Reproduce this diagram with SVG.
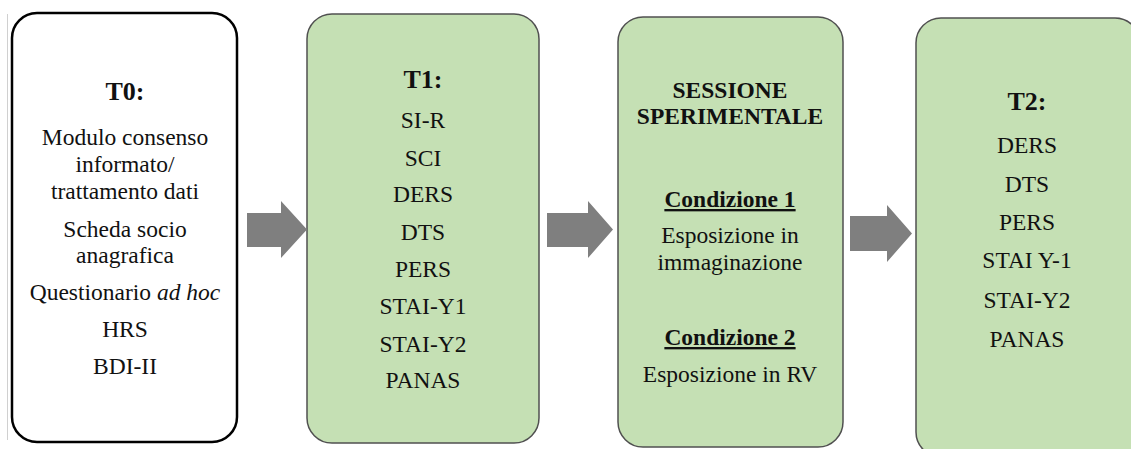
<svg xmlns="http://www.w3.org/2000/svg" width="1131" height="449" viewBox="0 0 1131 449">
<style>
  text { font-family: "Liberation Serif", "Times New Roman", serif; fill: #111; text-anchor: middle; }
  .b { font-size: 23.5px; }
  .h { font-size: 26px; font-weight: bold; }
  .hs { font-size: 23.5px; font-weight: bold; }
  .u { text-decoration: underline; }
  .green { fill: #c5e0b4; stroke: #505050; stroke-width: 1.5; }
  .white { fill: #ffffff; stroke: #000000; stroke-width: 2.5; }
  .arrow { fill: #7f7f7f; stroke: none; }
</style>
<rect width="1131" height="449" fill="#ffffff"/>
<line x1="7.5" y1="14" x2="7.5" y2="440" stroke="#d0d0d0" stroke-width="1"/>

<g id="T0">
  <rect class="white" x="12" y="13" width="225" height="429" rx="25" ry="25"/>
  <text class="h" x="125" y="100">T0:</text>
  <text class="b" x="125" y="145">Modulo consenso</text>
  <text class="b" x="125" y="172">informato/</text>
  <text class="b" x="125" y="199">trattamento dati</text>
  <text class="b" x="125" y="237">Scheda socio</text>
  <text class="b" x="125" y="263">anagrafica</text>
  <text class="b" x="125" y="300">Questionario <tspan font-style="italic">ad hoc</tspan></text>
  <text class="b" x="125" y="337">HRS</text>
  <text class="b" x="125" y="374">BDI-II</text>
</g>

<g id="T1">
  <rect class="green" x="307" y="14" width="232" height="429" rx="25" ry="25"/>
  <text class="h" x="423" y="88">T1:</text>
  <text class="b" x="423" y="128">SI-R</text>
  <text class="b" x="423" y="166">SCI</text>
  <text class="b" x="423" y="202">DERS</text>
  <text class="b" x="423" y="240">DTS</text>
  <text class="b" x="423" y="277">PERS</text>
  <text class="b" x="423" y="314">STAI-Y1</text>
  <text class="b" x="423" y="352">STAI-Y2</text>
  <text class="b" x="423" y="388">PANAS</text>
</g>

<g id="sessione">
  <rect class="green" x="618" y="17" width="225" height="430" rx="25" ry="25"/>
  <text class="hs" x="730" y="98">SESSIONE</text>
  <text class="hs" x="730" y="124">SPERIMENTALE</text>
  <text class="hs u" x="730" y="207">Condizione 1</text>
  <text class="b" x="730" y="243">Esposizione in</text>
  <text class="b" x="730" y="270">immaginazione</text>
  <text class="hs u" x="730" y="345">Condizione 2</text>
  <text class="b" x="730" y="382">Esposizione in RV</text>
</g>

<g id="T2">
  <rect class="green" x="916" y="18" width="224" height="439" rx="25" ry="25"/>
  <text class="h" x="1027" y="110">T2:</text>
  <text class="b" x="1027" y="153">DERS</text>
  <text class="b" x="1027" y="192">DTS</text>
  <text class="b" x="1027" y="230">PERS</text>
  <text class="b" x="1027" y="268">STAI Y-1</text>
  <text class="b" x="1027" y="308">STAI-Y2</text>
  <text class="b" x="1027" y="347">PANAS</text>
</g>

<g id="connectors">
  <polygon class="arrow" points="247,213 281,213 281,201 307,229.5 281,258 281,247 247,247"/>
  <polygon class="arrow" points="547,213 588,213 588,201 613,229.5 588,258 588,247 547,247"/>
  <polygon class="arrow" points="850,216 887,216 887,205 912,233.5 887,262 887,251 850,251"/>
</g>
</svg>
